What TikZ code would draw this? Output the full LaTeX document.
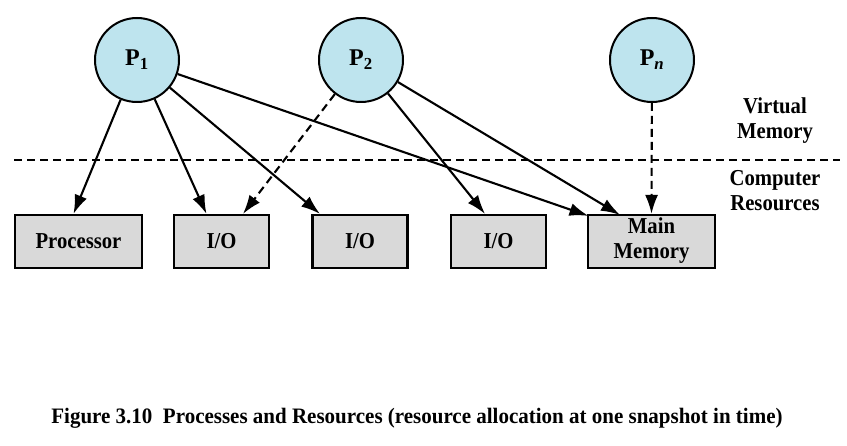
\documentclass[tikz,border=0pt]{standalone}
\usepackage{fontspec}
\setmainfont{Liberation Serif}
\usetikzlibrary{arrows.meta,calc}
\definecolor{pblue}{RGB}{190,228,238}
\definecolor{rgrey}{RGB}{217,217,217}
\newcommand{\tallt}[1]{\scalebox{1}[1.1]{#1}}
\newcommand{\twol}[2]{\tallt{\begin{tabular}{@{}c@{}}#1\\[1pt]#2\end{tabular}}}
\begin{document}
\begin{tikzpicture}[x=1pt,y=-1pt,
  proc/.style={circle,draw=black,line width=2pt,fill=pblue,minimum size=84pt,inner sep=0pt,
    font=\fontsize{24}{26}\selectfont\bfseries},
  res/.style={rectangle,draw=black,line width=2.2pt,fill=rgrey,minimum height=53pt,inner sep=0pt,
    font=\fontsize{20.7}{22}\selectfont\bfseries,align=center},
  lab/.style={font=\fontsize{20.7}{22}\selectfont\bfseries,align=center,inner sep=0pt},
  conn/.style={line width=2.1pt,-{Latex[length=19pt,width=13pt]}},
  dconn/.style={conn,dash pattern=on 8pt off 5pt}]
\useasboundingbox (0,0) rectangle (847,446);
\node[proc] (P1) at (137,60) {P\textsubscript{1}};
\node[proc] (P2) at (361,60) {P\textsubscript{2}};
\node[proc] (Pn) at (652,60) {P\textsubscript{\textit{n}}};
\node[res,minimum width=127pt] (proc) at (78.5,241.5) {\tallt{Processor}};
\node[res,minimum width=95pt] (io1) at (221.5,241.5) {\tallt{I/O}};
\node[res,minimum width=95pt] (io2) at (360,241.5) {\tallt{I/O}};
\node[res,minimum width=95pt] (io3) at (498.5,241.5) {\tallt{I/O}};
\node[res,minimum width=127pt] (mm) at (651.5,241.5) {\twol{Main}{Memory}};
\coordinate (dl) at (14,160);
\coordinate (dr) at (840,160);
\draw[line width=2pt,dash pattern=on 8pt off 5pt] (dl) -- (dr);
\node[lab] (vm) at (775,121) {\twol{Virtual}{Memory}};
\node[lab] (cr) at (775,193) {\twol{Computer}{Resources}};
\draw[conn] (P1) -- ([xshift=-5pt]proc.north);
\draw[conn] (P1) -- ([xshift=-15pt]io1.north);
\draw[conn] (P1) -- ([xshift=-40pt]io2.north);
\draw[conn] (P1) -- ([xshift=-63pt,yshift=-2pt]mm.north);
\draw[dconn] (P2) -- ([xshift=21.5pt]io1.north);
\draw[conn] (P2) -- ([xshift=-13.5pt]io3.north);
\draw[conn] (P2) -- ([xshift=-31.5pt,yshift=-1pt]mm.north);
\draw[dconn] (Pn) -- (mm.north);
\node[font=\fontsize{21}{24}\selectfont\bfseries] (cap) at (417,418)
  {\scalebox{1}[1.05]{Figure 3.10\ \ Processes and Resources (resource allocation at one snapshot in time)}};
\end{tikzpicture}
\end{document}
